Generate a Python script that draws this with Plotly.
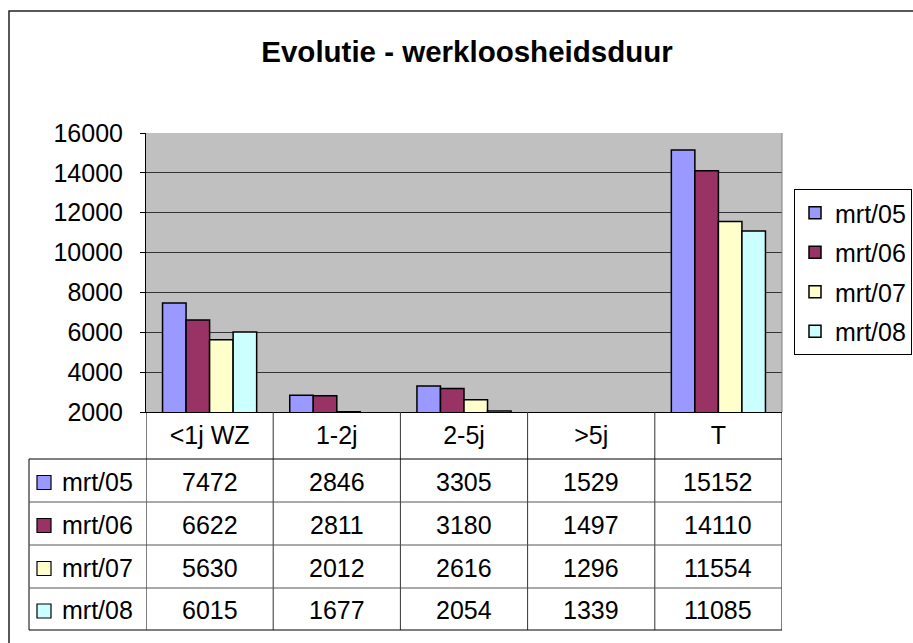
import plotly.graph_objects as go

categories = ["<1j WZ", "1-2j", "2-5j", ">5j", "T"]
series_names = ["mrt/05", "mrt/06", "mrt/07", "mrt/08"]
mrt05 = [7472, 2846, 3305, 1529, 15152]
mrt06 = [6622, 2811, 3180, 1497, 14110]
mrt07 = [5630, 2012, 2616, 1296, 11554]
mrt08 = [6015, 1677, 2054, 1339, 11085]
series_values = [mrt05, mrt06, mrt07, mrt08]
colors = ["#9999FF", "#993366", "#FFFFCC", "#CCFFFF"]
y_ticks = [2000, 4000, 6000, 8000, 10000, 12000, 14000, 16000]

W, H = 913, 643
FONT = "Liberation Sans, Arial, Helvetica, sans-serif"


def px_x(p):
    return p / W


def px_y(p):
    return (H - p) / H


# layout geometry (pixels)
PL, PR, PT, PB = 146, 782, 133, 412
TL = 29
row_lines = [459, 502, 545, 588, 630]
row_centers = [(row_lines[i] + row_lines[i + 1]) / 2 for i in range(4)]

fig = go.Figure()
for name, vals, col in zip(series_names, series_values, colors):
    fig.add_trace(go.Bar(
        x=categories, y=vals, name=name, legendgroup=name,
        marker=dict(color=col, line=dict(color="black", width=1.5)),
    ))

shapes = []
# outer chart frame
shapes.append(dict(type="rect", xref="paper", yref="paper",
                   x0=px_x(9), x1=px_x(925), y0=px_y(655), y1=px_y(11),
                   line=dict(color="#222222", width=1.5)))
# plot right border (gray)
shapes.append(dict(type="line", xref="paper", yref="paper",
                   x0=px_x(PR), x1=px_x(PR), y0=px_y(PB), y1=px_y(PT),
                   line=dict(color="#808080", width=1)))
# table vertical lines at category boundaries
for i in range(len(categories) + 1):
    shapes.append(dict(type="line", xref="x", yref="paper",
                       x0=i - 0.5, x1=i - 0.5, y0=px_y(row_lines[-1]), y1=px_y(PB),
                       line=dict(color="#333333" if 0 < i < len(categories) else "black", width=1)))
# row label column left border
shapes.append(dict(type="line", xref="paper", yref="paper",
                   x0=px_x(TL), x1=px_x(TL), y0=px_y(row_lines[-1]), y1=px_y(row_lines[0]),
                   line=dict(color="black", width=1)))
# table horizontal lines
for j, ry in enumerate(row_lines):
    shapes.append(dict(type="line", xref="paper", yref="paper",
                       x0=px_x(TL), x1=px_x(PR), y0=px_y(ry), y1=px_y(ry),
                       line=dict(color="black" if j in (0, len(row_lines) - 1) else "#555555", width=1)))
# legend keys in table
for rc, col in zip(row_centers, colors):
    shapes.append(dict(type="rect", xref="paper", yref="paper",
                       x0=px_x(37), x1=px_x(51), y0=px_y(rc + 9), y1=px_y(rc - 5),
                       fillcolor=col, line=dict(color="black", width=1.2)))

annotations = []
for rc, name, vals in zip(row_centers, series_names, series_values):
    annotations.append(dict(xref="paper", yref="paper", x=px_x(60), y=px_y(rc + 1),
                            text=name, showarrow=False, xanchor="left", yanchor="middle",
                            font=dict(family=FONT, size=25, color="black")))
    for c, v in zip(categories, vals):
        annotations.append(dict(xref="x", yref="paper", x=c, y=px_y(rc + 1),
                                text=str(v), showarrow=False, xanchor="center", yanchor="middle",
                                font=dict(family=FONT, size=25, color="black")))

fig.update_layout(
    width=W, height=H,
    margin=dict(l=0, r=0, t=0, b=0, autoexpand=False),
    paper_bgcolor="white", plot_bgcolor="#C0C0C0",
    font=dict(family=FONT, size=25, color="black"),
    title=dict(text="<b>Evolutie - werkloosheidsduur</b>", x=px_x(467), xanchor="center",
               y=1 - 52 / H, yref="container", yanchor="middle",
               font=dict(family=FONT, size=29.5, color="black")),
    barmode="group", bargap=0.26, bargroupgap=0,
    xaxis=dict(domain=[px_x(PL), px_x(PR)], type="category", range=[-0.5, 4.5],
               showline=True, linecolor="black", linewidth=1, ticks="",
               showgrid=False, tickfont=dict(family=FONT, size=25), ticklabelstandoff=1),
    yaxis=dict(domain=[px_y(PB), px_y(PT)], range=[2000, 16000], tickvals=y_ticks,
               tickformat="d", showline=True, linecolor="black", linewidth=1,
               ticks="outside", ticklen=5, tickcolor="black",
               showgrid=True, gridcolor="#333333", gridwidth=1,
               tickfont=dict(family=FONT, size=25), ticklabelstandoff=12, zeroline=False),
    legend=dict(x=px_x(794), y=px_y(189), xanchor="left", yanchor="top",
                bgcolor="white", bordercolor="black", borderwidth=1,
                font=dict(family=FONT, size=25), tracegroupgap=4,
                itemclick=False),
    shapes=shapes, annotations=annotations,
)

fig.write_html("out.html", config={"displayModeBar": False},
               post_script="document.body.style.margin='0';document.body.style.overflow='hidden';")
